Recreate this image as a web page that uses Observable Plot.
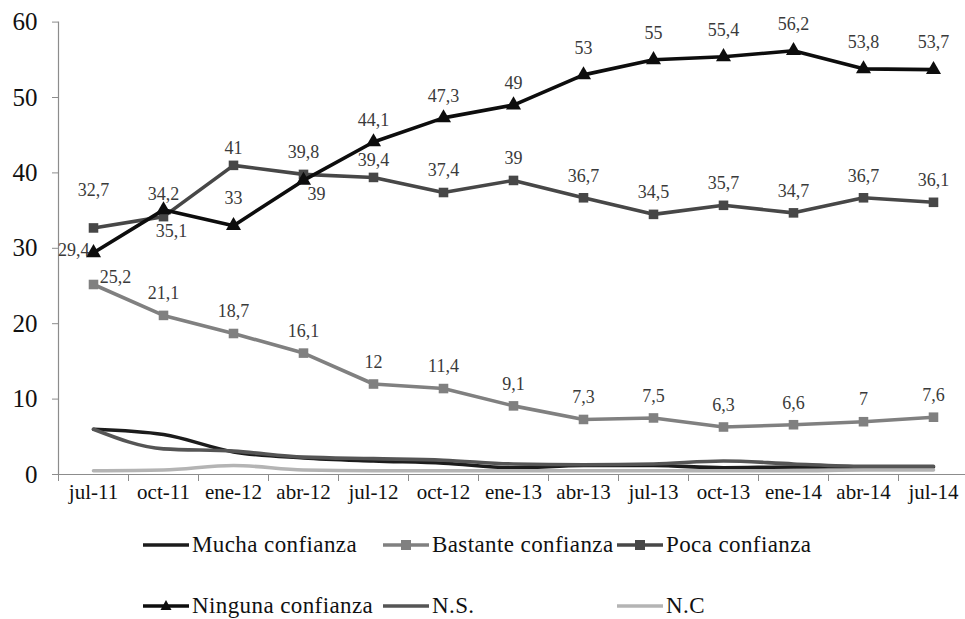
<!DOCTYPE html>
<html>
<head>
<meta charset="utf-8">
<script src="https://cdn.jsdelivr.net/npm/d3@7"></script>
<script src="https://cdn.jsdelivr.net/npm/@observablehq/plot@0.6"></script>
<style>
  html, body { margin: 0; padding: 0; background: #fff; }
  #wrap { position: relative; width: 965px; height: 619px; overflow: hidden; font-family: "Liberation Serif", serif; }
  #chart svg { display: block; overflow: visible; }
  .item { position: absolute; display: flex; align-items: center; font-size: 23px; letter-spacing: 0.4px; color: #111; white-space: nowrap; }
  .item svg { display: block; margin-right: 3px; }
</style>
</head>
<body>
<div id="wrap">
  <div id="chart"></div>
  <div id="legend"></div>
</div>
<script>
const serif = "'Liberation Serif', serif";

// Survey periods (quarterly)
const months = ["jul-11","oct-11","ene-12","abr-12","jul-12","oct-12","ene-13","abr-13","jul-13","oct-13","ene-14","abr-14","jul-14"];

// Percentages per answer
const mucha    = [6, 5.3, 3, 2.2, 1.8, 1.5, 0.9, 1.2, 1.2, 0.9, 1.0, 1.0, 1.0];
const bastante = [25.2, 21.1, 18.7, 16.1, 12, 11.4, 9.1, 7.3, 7.5, 6.3, 6.6, 7, 7.6];
const poca     = [32.7, 34.2, 41, 39.8, 39.4, 37.4, 39, 36.7, 34.5, 35.7, 34.7, 36.7, 36.1];
const ninguna  = [29.4, 35.1, 33, 39, 44.1, 47.3, 49, 53, 55, 55.4, 56.2, 53.8, 53.7];
const ns       = [6, 3.4, 3.1, 2.3, 2.1, 1.9, 1.4, 1.3, 1.4, 1.8, 1.4, 1.1, 1.1];
const nc       = [0.5, 0.6, 1.2, 0.6, 0.5, 0.5, 0.5, 0.5, 0.5, 0.5, 0.5, 0.6, 0.6];

const yTicks = [0, 10, 20, 30, 40, 50, 60];

// Series styling (drawing order)
const series = [
  {name: "Mucha confianza",    values: mucha,    color: "#1c1c1c", symbol: null,       curve: "monotone-x"},
  {name: "Bastante confianza", values: bastante, color: "#808080", symbol: "square",   curve: "linear", labels: true},
  {name: "Poca confianza",     values: poca,     color: "#474747", symbol: "square",   curve: "linear", labels: true},
  {name: "Ninguna confianza",  values: ninguna,  color: "#0d0d0d", symbol: "triangle", curve: "linear", labels: true},
  {name: "N.S.",               values: ns,       color: "#555555", symbol: null,       curve: "monotone-x"},
  {name: "N.C",                values: nc,       color: "#b4b4b4", symbol: null,       curve: "monotone-x"}
];

// Label placement presets and the points that deviate from "above"
const placements = {
  above:      {dy: -22},
  top:        {dy: -27},
  high:       {dy: -38},
  near:       {dy: -17},
  left:       {dx: -4, dy: -3, textAnchor: "end"},
  right:      {dx: 22, dy: -7},
  below:      {dx: 8, dy: 21},
  belowRight: {dx: 13, dy: 14}
};
const placementOf = (name, i) => {
  if (name === "Poca confianza") return i === 0 ? "high" : (i === 2 || i === 4) ? "near" : "above";
  if (name === "Bastante confianza") return i === 0 ? "right" : "above";
  if (name === "Ninguna confianza") {
    if (i === 0) return "left";
    if (i === 1) return "below";
    if (i === 2) return "top";
    if (i === 3) return "belowRight";
    return i >= 7 ? "top" : "above";
  }
  return "above";
};

const fmt = v => String(v).replace(".", ",");

const marks = [
  // axis lines and ticks
  Plot.ruleY([0], {stroke: "#8c8c8c", strokeWidth: 1.2}),
  Plot.ruleX([-0.5], {y1: 0, y2: 60, stroke: "#8c8c8c", strokeWidth: 1.2}),
  Plot.axisY({ticks: yTicks, label: null, tickSize: 6, tickPadding: 15, fontSize: 25, fontFamily: serif, stroke: "#8c8c8c", fill: "#111", tickFormat: d => d}),
  Plot.axisX({ticks: d3.range(-0.5, 13, 1), label: null, tickSize: 7, stroke: "#8c8c8c", tickFormat: () => ""}),
  Plot.axisX({ticks: d3.range(months.length), label: null, tickSize: 0, tickPadding: 10, fontSize: 21, fontFamily: serif, fill: "#111", tickFormat: i => months[i]})
];

for (const s of series) {
  const rows = s.values.map((v, i) => ({i, v, name: s.name}));
  marks.push(Plot.line(rows, {x: "i", y: "v", stroke: s.color, strokeWidth: 3.6, curve: s.curve, strokeLinejoin: "round"}));
  if (s.symbol) {
    marks.push(Plot.dot(rows, {x: "i", y: "v", symbol: s.symbol, r: s.symbol === "square" ? 5.4 : 5.6, fill: s.color, stroke: "none"}));
  }
}

// value labels
for (const s of series.filter(d => d.labels)) {
  const rows = s.values.map((v, i) => ({i, v, place: placementOf(s.name, i)}));
  for (const [key, p] of Object.entries(placements)) {
    const sub = rows.filter(r => r.place === key);
    if (!sub.length) continue;
    marks.push(Plot.text(sub, {
      x: "i", y: "v", text: d => fmt(d.v),
      dx: p.dx || 0, dy: p.dy || 0, textAnchor: p.textAnchor || "middle",
      fontSize: 18, fill: "#3a3a3a", fontFamily: serif
    }));
  }
}

const chart = Plot.plot({
  width: 965,
  height: 520,
  marginLeft: 58,
  marginRight: 0,
  marginTop: 21.6,
  marginBottom: 46,
  style: {fontFamily: serif, background: "#fff", color: "#111"},
  x: {type: "linear", domain: [-0.5, 12.5], range: [58, 968]},
  y: {domain: [0, 60], range: [474, 21.6]},
  marks
});
document.getElementById("chart").appendChild(chart);

// legend, two rows of three
const legendPos = [
  {x: 143, y: 545}, {x: 383, y: 545}, {x: 617, y: 545},
  {x: 143, y: 606}, {x: 383, y: 606}, {x: 617, y: 606}
];
const legend = document.getElementById("legend");
series.forEach((s, k) => {
  const pos = legendPos[k];
  const el = document.createElement("div");
  el.className = "item";
  el.style.left = pos.x + "px";
  el.style.top = (pos.y - 13) + "px";
  el.style.height = "26px";
  let marker = "";
  if (s.symbol === "square") marker = `<rect x="18" y="8" width="10" height="10" fill="${s.color}"/>`;
  if (s.symbol === "triangle") marker = `<path d="M23,7 L28.5,17 L17.5,17 Z" fill="${s.color}"/>`;
  el.innerHTML = `<svg width="46" height="26"><line x1="0" y1="13" x2="46" y2="13" stroke="${s.color}" stroke-width="3.6"/>${marker}</svg><span>${s.name}</span>`;
  legend.appendChild(el);
});
</script>
</body>
</html>
